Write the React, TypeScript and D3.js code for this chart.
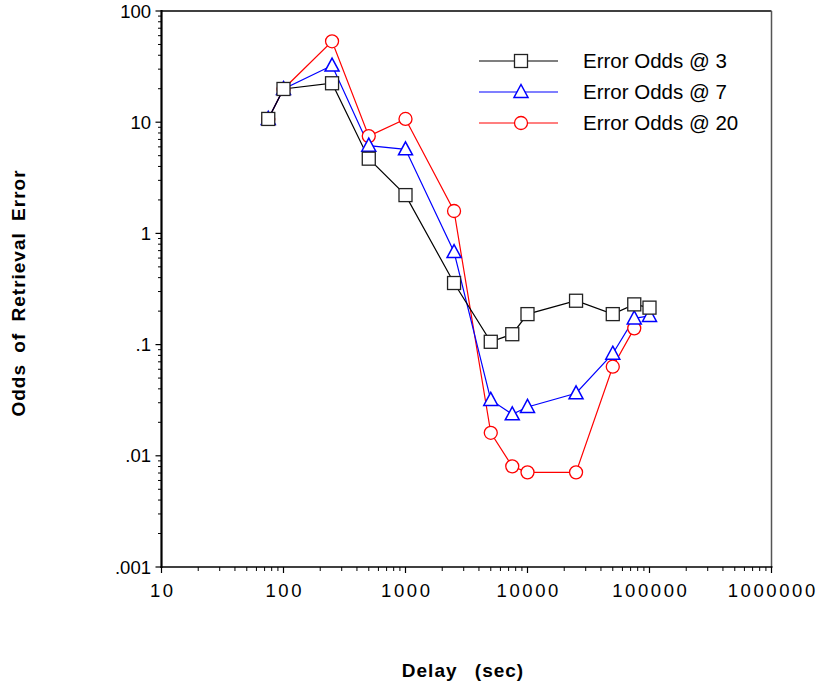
import React from "react";
import * as d3 from "d3";

const delays = [75, 100, 250, 500, 1000, 2500, 5000, 7500, 10000, 25000, 50000, 75000, 100000];
const odds3 = [10.7, 19.9, 22.4, 4.7, 2.21, 0.358, 0.106, 0.124, 0.188, 0.248, 0.188, 0.23, 0.215];
const odds7 = [10.7, 19.9, 32.3, 6.15, 5.7, 0.68, 0.0318, 0.0236, 0.0275, 0.0365, 0.0828, 0.172, 0.181];
const delays20 = [75, 100, 250, 500, 1000, 2500, 5000, 7500, 10000, 25000, 50000, 75000];
const odds20 = [10.7, 19.9, 53.4, 7.5, 10.7, 1.59, 0.0161, 0.00804, 0.0071, 0.0071, 0.0633, 0.14];

const xTickValues = [10, 100, 1000, 10000, 100000, 1000000];
const xTickLabels = ["10", "100", "1000", "10000", "100000", "1000000"];
const yTickValues = [100, 10, 1, 0.1, 0.01, 0.001];
const yTickLabels = ["100", "10", "1", ".1", ".01", ".001"];
const seriesNames = ["Error Odds @ 3", "Error Odds @ 7", "Error Odds @ 20"];
const seriesColors = ["#000000", "#0000ff", "#ff0000"];

const L = 161.5, R = 771.5, T = 11, B = 567;

function Marker({ kind, x, y, color }: { kind: number; x: number; y: number; color: string }) {
  if (kind === 0) return <rect x={x - 6.5} y={y - 6.5} width={13} height={13} fill="white" stroke="#222" strokeWidth={1.3} />;
  if (kind === 1) {
    const p = `${x},${y - 7.5} ${x + 7},${y + 5.5} ${x - 7},${y + 5.5}`;
    return <polygon points={p} fill="white" stroke={color} strokeWidth={1.5} />;
  }
  return <circle cx={x} cy={y} r={6.5} fill="white" stroke={color} strokeWidth={1.3} />;
}

export default function App() {
  const x = d3.scaleLog().domain([10, 1e6]).range([L, R]);
  const y = d3.scaleLog().domain([0.001, 100]).range([B, T]);
  const line = d3.line<[number, number]>().x((d) => x(d[0])).y((d) => y(d[1]));
  const series: [number, number][][] = [
    delays.map((d, i) => [d, odds3[i]] as [number, number]),
    delays.map((d, i) => [d, odds7[i]] as [number, number]),
    delays20.map((d, i) => [d, odds20[i]] as [number, number]),
  ];
  const minorX: number[] = [];
  for (let e = 1; e < 6; e++) for (let m = 2; m <= 9; m++) minorX.push(m * Math.pow(10, e));
  const minorY: number[] = [];
  for (let e = -3; e < 2; e++) for (let m = 2; m <= 9; m++) minorY.push(m * Math.pow(10, e));
  const font = "Liberation Sans, Arial, Helvetica, sans-serif";
  const order = [2, 1, 0];
  return (
    <svg width={824} height={685} style={{ position: "absolute", left: 0, top: 0 }} fontFamily={font}>
      <rect width={824} height={685} fill="white" />
      {/* frame */}
      <line x1={L} x2={R} y1={T} y2={T} stroke="#000" strokeWidth={1.5} />
      <line x1={R} x2={R} y1={T} y2={B} stroke="#555" strokeWidth={1.5} />
      <line x1={L} x2={L} y1={T - 1} y2={B + 1} stroke="#000" strokeWidth={2.2} />
      <line x1={L - 1} x2={R + 1} y1={B} y2={B} stroke="#000" strokeWidth={1.6} />
      {/* y ticks */}
      {yTickValues.map((v, i) => (
        <g key={"yt" + i}>
          <line x1={L - 6} x2={L} y1={y(v)} y2={y(v)} stroke="#000" strokeWidth={1.2} />
          <text x={151} y={y(v)} dy="0.36em" textAnchor="end" fontSize={18.5}>{yTickLabels[i]}</text>
        </g>
      ))}
      {minorY.map((v, i) => (
        <line key={"ym" + i} x1={L - 3.5} x2={L} y1={y(v)} y2={y(v)} stroke="#000" strokeWidth={1} />
      ))}
      {/* x ticks */}
      {xTickValues.map((v, i) => (
        <g key={"xt" + i}>
          <line x1={x(v)} x2={x(v)} y1={B} y2={B + 6} stroke="#000" strokeWidth={1.2} />
          <text x={x(v) + 1.3} y={597} textAnchor="middle" fontSize={18.5} letterSpacing={2.6}>{xTickLabels[i]}</text>
        </g>
      ))}
      {minorX.map((v, i) => (
        <line key={"xm" + i} x1={x(v)} x2={x(v)} y1={B} y2={B + 4} stroke="#000" strokeWidth={1} />
      ))}
      {/* series */}
      {order.map((s) => (
        <path key={"l" + s} d={line(series[s]) || ""} fill="none" stroke={seriesColors[s]} strokeWidth={1.2} />
      ))}
      {order.map((s) =>
        series[s].map((d, i) => <Marker key={`m${s}-${i}`} kind={s} x={x(d[0])} y={y(d[1])} color={seriesColors[s]} />)
      )}
      {/* legend */}
      {seriesNames.map((n, i) => {
        const ly = 61 + i * 31;
        return (
          <g key={"lg" + i}>
            <line x1={479} x2={558} y1={ly} y2={ly} stroke={seriesColors[i]} strokeWidth={1.2} />
            <Marker kind={i} x={521} y={ly} color={seriesColors[i]} />
            <text x={583} y={ly} dy="0.36em" fontSize={20.5}>{n}</text>
          </g>
        );
      })}
      {/* axis titles */}
      <text transform={`translate(25,293) rotate(-90)`} textAnchor="middle" fontSize={19} fontWeight="bold" letterSpacing={1} wordSpacing={5}>
        Odds of Retrieval Error
      </text>
      <text x={463} y={677} textAnchor="middle" fontSize={19} fontWeight="bold" letterSpacing={1} wordSpacing={11}>
        Delay (sec)
      </text>
    </svg>
  );
}
